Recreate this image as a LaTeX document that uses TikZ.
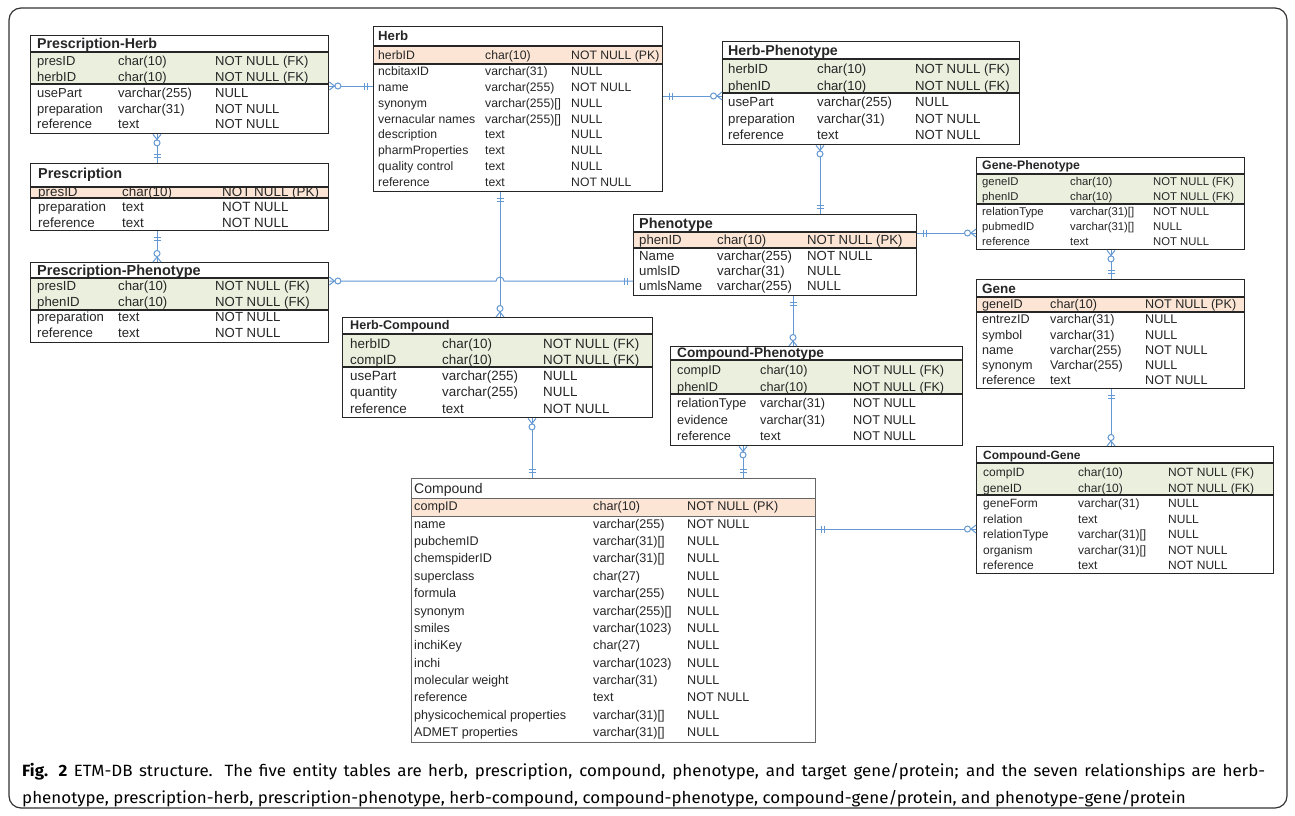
\documentclass[tikz,border=0pt]{standalone}
\usepackage{fontspec}
\setmainfont{Liberation Sans}
\newfontfamily\capfont{Fira Sans}[FakeStretch=1.04]
\definecolor{pkfill}{RGB}{252,229,213}
\definecolor{fkfill}{RGB}{235,240,222}
\definecolor{linkblue}{RGB}{100,152,210}
\begin{document}
\begin{tikzpicture}[x=1pt, y=-1pt,
    tbox/.style={draw=black!85, line width=1.4pt, anchor=north west, inner sep=0pt},
    rowline/.style={draw=black!85, line width=1.4pt},
    cell/.style={anchor=base west, inner sep=0pt, yshift={-0.3*#1pt}, font=\fontsize{#1}{#1}\selectfont, text=black!85},
    ttl/.style={cell=#1, font=\fontsize{#1}{#1}\selectfont\bfseries},
    link/.style={draw=linkblue, line width=1pt},
    manymark/.pic={\draw[link] (0,-4) -- (5,0) -- (0,4); \draw[link, fill=white] (8.5,0) circle (3);},
    onemark/.pic={\draw[link] (6,-3.5) -- (6,3.5) (9,-3.5) -- (9,3.5);}]
    \useasboundingbox (0,0) rectangle (1295,816);
    \fill[white] (0,0) rectangle (1295,816);
    % Rahmen
    \draw[line width=1.2pt, draw=black!80, rounded corners=12pt] (9,8) rectangle (1287,808);

    % Prescription-Herb
    \fill[fkfill] (30,52) rectangle (328,84);
    \node[tbox, minimum width=298pt, minimum height=98pt] (presherb) at (30,35) {};
    \draw[rowline] (30,52) -- (328,52) (30,84) -- (328,84);
    \node[ttl=14.2] (presherb-t) at (37,44) {Prescription-Herb};
    \foreach \n/\t/\c [count=\i from 0] in {presID/char(10)/NOT NULL (FK), herbID/char(10)/NOT NULL (FK),
        usePart/varchar(255)/NULL, preparation/varchar(31)/NOT NULL, reference/text/NOT NULL} {
        \node[cell=13] (presherb-a\i) at (37,62+15.75*\i) {\n};
        \node[cell=13] (presherb-b\i) at (118,62+15.75*\i) {\t};
        \node[cell=13] (presherb-c\i) at (215,62+15.75*\i) {\c};
    }

    % Prescription
    \fill[pkfill] (30,187) rectangle (328,198);
    \node[tbox, minimum width=298pt, minimum height=67pt] (pres) at (30,163) {};
    \draw[rowline] (30,187) -- (328,187) (30,198) -- (328,198);
    \node[ttl=14.4] (pres-t) at (38,174) {Prescription};
    \foreach \n/\t/\c [count=\i from 0] in {presID/char(10)/NOT NULL (PK),
        preparation/text/NOT NULL, reference/text/NOT NULL} {
        \node[cell=13.4] (pres-a\i) at (38,192+15.5*\i) {\n};
        \node[cell=13.4] (pres-b\i) at (122,192+15.5*\i) {\t};
        \node[cell=13.4] (pres-c\i) at (222,192+15.5*\i) {\c};
    }

    % Prescription-Phenotype
    \fill[fkfill] (30,278) rectangle (328,310);
    \node[tbox, minimum width=298pt, minimum height=80pt] (prespheno) at (30,262) {};
    \draw[rowline] (30,278) -- (328,278) (30,310) -- (328,310);
    \node[ttl=14.5] (prespheno-t) at (37,271) {Prescription-Phenotype};
    \foreach \n/\t/\c [count=\i from 0] in {presID/char(10)/NOT NULL (FK), phenID/char(10)/NOT NULL (FK),
        preparation/text/NOT NULL, reference/text/NOT NULL} {
        \node[cell=13.2] (prespheno-a\i) at (37,287+15.4*\i) {\n};
        \node[cell=13.2] (prespheno-b\i) at (118,287+15.4*\i) {\t};
        \node[cell=13.2] (prespheno-c\i) at (215,287+15.4*\i) {\c};
    }

    % Herb
    \fill[pkfill] (373,46) rectangle (662,64);
    \node[tbox, minimum width=289pt, minimum height=165pt] (herb) at (373,26) {};
    \draw[rowline] (373,46) -- (662,46) (373,64) -- (662,64);
    \node[ttl=13.2] (herb-t) at (378,37) {Herb};
    \foreach \n/\t/\c [count=\i from 0] in {herbID/char(10)/NOT NULL (PK), ncbitaxID/varchar(31)/NULL,
        name/varchar(255)/NOT NULL, synonym/varchar(255)[]/NULL, vernacular names/varchar(255)[]/NULL,
        description/text/NULL, pharmProperties/text/NULL, quality control/text/NULL, reference/text/NOT NULL} {
        \node[cell=12.2] (herb-a\i) at (378,56+15.85*\i) {\n};
        \node[cell=12.2] (herb-b\i) at (485,56+15.85*\i) {\t};
        \node[cell=12.2] (herb-c\i) at (571,56+15.85*\i) {\c};
    }

    % Herb-Phenotype
    \fill[fkfill] (722,59) rectangle (1019,93);
    \node[tbox, minimum width=297pt, minimum height=103pt] (herbpheno) at (722,41) {};
    \draw[rowline] (722,59) -- (1019,59) (722,93) -- (1019,93);
    \node[ttl=14.2] (herbpheno-t) at (728,51) {Herb-Phenotype};
    \foreach \n/\t/\c [count=\i from 0] in {herbID/char(10)/NOT NULL (FK), phenID/char(10)/NOT NULL (FK),
        usePart/varchar(255)/NULL, preparation/varchar(31)/NOT NULL, reference/text/NOT NULL} {
        \node[cell=13.2] (herbpheno-a\i) at (728,70+16.5*\i) {\n};
        \node[cell=13.2] (herbpheno-b\i) at (817,70+16.5*\i) {\t};
        \node[cell=13.2] (herbpheno-c\i) at (915,70+16.5*\i) {\c};
    }

    % Phenotype
    \fill[pkfill] (633,232) rectangle (916,248);
    \node[tbox, minimum width=283pt, minimum height=81pt] (pheno) at (633,214) {};
    \draw[rowline] (633,232) -- (916,232) (633,248) -- (916,248);
    \node[ttl=14.4] (pheno-t) at (639,224) {Phenotype};
    \foreach \n/\t/\c [count=\i from 0] in {phenID/char(10)/NOT NULL (PK), Name/varchar(255)/NOT NULL,
        umlsID/varchar(31)/NULL, umlsName/varchar(255)/NULL} {
        \node[cell=13.2] (pheno-a\i) at (639,241+15.3*\i) {\n};
        \node[cell=13.2] (pheno-b\i) at (717,241+15.3*\i) {\t};
        \node[cell=13.2] (pheno-c\i) at (807,241+15.3*\i) {\c};
    }

    % Gene-Phenotype
    \fill[fkfill] (976,174) rectangle (1244,204);
    \node[tbox, minimum width=268pt, minimum height=92pt] (genepheno) at (976,157) {};
    \draw[rowline] (976,174) -- (1244,174) (976,204) -- (1244,204);
    \node[ttl=12.3] (genepheno-t) at (982,166) {Gene-Phenotype};
    \foreach \n/\t/\c [count=\i from 0] in {geneID/char(10)/NOT NULL (FK), phenID/char(10)/NOT NULL (FK),
        relationType/varchar(31)[]/NOT NULL, pubmedID/varchar(31)[]/NULL, reference/text/NOT NULL} {
        \node[cell=11.3] (genepheno-a\i) at (982,182+15*\i) {\n};
        \node[cell=11.3] (genepheno-b\i) at (1070,182+15*\i) {\t};
        \node[cell=11.3] (genepheno-c\i) at (1153,182+15*\i) {\c};
    }

    % Gene
    \fill[pkfill] (976,297) rectangle (1244,312);
    \node[tbox, minimum width=268pt, minimum height=109pt] (gene) at (976,279) {};
    \draw[rowline] (976,297) -- (1244,297) (976,312) -- (1244,312);
    \node[ttl=13.5] (gene-t) at (982,289) {Gene};
    \foreach \n/\t/\c [count=\i from 0] in {geneID/char(10)/NOT NULL (PK), entrezID/varchar(31)/NULL,
        symbol/varchar(31)/NULL, name/varchar(255)/NOT NULL, synonym/Varchar(255)/NULL, reference/text/NOT NULL} {
        \node[cell=12.6] (gene-a\i) at (982,305+15.2*\i) {\n};
        \node[cell=12.6] (gene-b\i) at (1050,305+15.2*\i) {\t};
        \node[cell=12.6] (gene-c\i) at (1145,305+15.2*\i) {\c};
    }

    % Compound-Gene
    \fill[fkfill] (976,463) rectangle (1273,495);
    \node[tbox, minimum width=297pt, minimum height=127pt] (compgene) at (976,446) {};
    \draw[rowline] (976,463) -- (1273,463) (976,495) -- (1273,495);
    \node[ttl=12] (compgene-t) at (983,456) {Compound-Gene};
    \foreach \n/\t/\c [count=\i from 0] in {compID/char(10)/NOT NULL (FK), geneID/char(10)/NOT NULL (FK),
        geneForm/varchar(31)/NULL, relation/text/NULL, relationType/varchar(31)[]/NULL,
        organism/varchar(31)[]/NOT NULL, reference/text/NOT NULL} {
        \node[cell=12] (compgene-a\i) at (983,473+15.5*\i) {\n};
        \node[cell=12] (compgene-b\i) at (1078,473+15.5*\i) {\t};
        \node[cell=12] (compgene-c\i) at (1168,473+15.5*\i) {\c};
    }

    % Herb-Compound
    \fill[fkfill] (342,334) rectangle (652,367);
    \node[tbox, minimum width=310pt, minimum height=100pt] (herbcomp) at (342,317) {};
    \draw[rowline] (342,334) -- (652,334) (342,367) -- (652,367);
    \node[ttl=12.6] (herbcomp-t) at (350,326) {Herb-Compound};
    \foreach \n/\t/\c [count=\i from 0] in {herbID/char(10)/NOT NULL (FK), compID/char(10)/NOT NULL (FK),
        usePart/varchar(255)/NULL, quantity/varchar(255)/NULL, reference/text/NOT NULL} {
        \node[cell=13.4] (herbcomp-a\i) at (350,344+16.25*\i) {\n};
        \node[cell=13.4] (herbcomp-b\i) at (442,344+16.25*\i) {\t};
        \node[cell=13.4] (herbcomp-c\i) at (543,344+16.25*\i) {\c};
    }

    % Compound-Phenotype
    \fill[fkfill] (670,360) rectangle (962,394);
    \node[tbox, minimum width=292pt, minimum height=99pt] (comppheno) at (670,346) {};
    \draw[rowline] (670,360) -- (962,360) (670,394) -- (962,394);
    \node[ttl=13.7] (comppheno-t) at (677,353) {Compound-Phenotype};
    \foreach \n/\t/\c [count=\i from 0] in {compID/char(10)/NOT NULL (FK), phenID/char(10)/NOT NULL (FK),
        relationType/varchar(31)/NOT NULL, evidence/varchar(31)/NOT NULL, reference/text/NOT NULL} {
        \node[cell=12.7] (comppheno-a\i) at (677,371+16.5*\i) {\n};
        \node[cell=12.7] (comppheno-b\i) at (760,371+16.5*\i) {\t};
        \node[cell=12.7] (comppheno-c\i) at (853,371+16.5*\i) {\c};
    }

    % Compound
    \fill[pkfill] (411,498) rectangle (815,516);
    \node[tbox, draw=black!60, line width=0.9pt, minimum width=404pt, minimum height=264pt] (comp) at (411,478) {};
    \draw[draw=black!60, line width=0.9pt] (411,498) -- (815,498) (411,516) -- (815,516);
    \node[cell=14] (comp-t) at (414,489) {Compound};
    \foreach \n/\t/\c [count=\i from 0] in {compID/char(10)/NOT NULL (PK), name/varchar(255)/NOT NULL,
        pubchemID/varchar(31)[]/NULL, chemspiderID/varchar(31)[]/NULL, superclass/char(27)/NULL,
        formula/varchar(255)/NULL, synonym/varchar(255)[]/NULL, smiles/varchar(1023)/NULL,
        inchiKey/char(27)/NULL, inchi/varchar(1023)/NULL, molecular weight/varchar(31)/NULL,
        reference/text/NOT NULL, physicochemical properties/varchar(31)[]/NULL, ADMET properties/varchar(31)[]/NULL} {
        \node[cell=12.6] (comp-a\i) at (414,507+17.38*\i) {\n};
        \node[cell=12.6] (comp-b\i) at (593,507+17.38*\i) {\t};
        \node[cell=12.6] (comp-c\i) at (687,507+17.38*\i) {\c};
    }

    % Beziehungen
    \draw[link] (presherb.east |- 0,86) coordinate (l1a) -- (herb.west |- 0,86) coordinate (l1b);
    \pic[rotate=0] at (l1a) {manymark};
    \pic[rotate=180] at (l1b) {onemark};

    \draw[link] (herb.east |- 0,96) coordinate (l2a) -- (herbpheno.west |- 0,96) coordinate (l2b);
    \pic[rotate=0] at (l2a) {onemark};
    \pic[rotate=180] at (l2b) {manymark};

    \draw[link] (presherb.south -| 157,0) coordinate (l3a) -- (pres.north -| 157,0) coordinate (l3b);
    \pic[rotate=270] at (l3a) {manymark};
    \pic[rotate=90] at (l3b) {onemark};

    \draw[link] (pres.south -| 157,0) coordinate (l4a) -- (prespheno.north -| 157,0) coordinate (l4b);
    \pic[rotate=270] at (l4a) {onemark};
    \pic[rotate=90] at (l4b) {manymark};

    \draw[link] (herb.south -| 500,0) coordinate (l6a) -- (herbcomp.north -| 500,0) coordinate (l6b);
    \pic[rotate=270] at (l6a) {onemark};
    \pic[rotate=90] at (l6b) {manymark};

    % mit Bruecke ueber die Linie Herb -- Herb-Compound
    \draw[link] (prespheno.east |- 0,281) coordinate (l5a) -- (496,281) arc (180:360:4)
        -- (pheno.west |- 0,281) coordinate (l5b);
    \pic[rotate=0] at (l5a) {manymark};
    \pic[rotate=180] at (l5b) {onemark};

    \draw[link] (herbpheno.south -| 820,0) coordinate (l7a) -- (pheno.north -| 820,0) coordinate (l7b);
    \pic[rotate=270] at (l7a) {manymark};
    \pic[rotate=90] at (l7b) {onemark};

    \draw[link] (pheno.east |- 0,233) coordinate (l8a) -- (genepheno.west |- 0,233) coordinate (l8b);
    \pic[rotate=0] at (l8a) {onemark};
    \pic[rotate=180] at (l8b) {manymark};

    \draw[link] (genepheno.south -| 1111,0) coordinate (l9a) -- (gene.north -| 1111,0) coordinate (l9b);
    \pic[rotate=270] at (l9a) {manymark};
    \pic[rotate=90] at (l9b) {onemark};

    \draw[link] (gene.south -| 1111,0) coordinate (l10a) -- (compgene.north -| 1111,0) coordinate (l10b);
    \pic[rotate=270] at (l10a) {onemark};
    \pic[rotate=90] at (l10b) {manymark};

    \draw[link] (pheno.south -| 793,0) coordinate (l11a) -- (comppheno.north -| 793,0) coordinate (l11b);
    \pic[rotate=270] at (l11a) {onemark};
    \pic[rotate=90] at (l11b) {manymark};

    \draw[link] (herbcomp.south -| 532,0) coordinate (l12a) -- (comp.north -| 532,0) coordinate (l12b);
    \pic[rotate=270] at (l12a) {manymark};
    \pic[rotate=90] at (l12b) {onemark};

    \draw[link] (comppheno.south -| 743,0) coordinate (l13a) -- (comp.north -| 743,0) coordinate (l13b);
    \pic[rotate=270] at (l13a) {manymark};
    \pic[rotate=90] at (l13b) {onemark};

    \draw[link] (comp.east |- 0,529) coordinate (l14a) -- (compgene.west |- 0,529) coordinate (l14b);
    \pic[rotate=0] at (l14a) {onemark};
    \pic[rotate=180] at (l14b) {manymark};

    % Bildunterschrift (erste Zeile im Blocksatz)
    \node[anchor=base west, inner sep=0pt, font=\capfont\fontsize{16.3}{16.3}\selectfont] (cap1) at (22,776)
        {\makebox[1243pt][s]{\textbf{Fig. 2} ETM-DB structure. The five entity tables are herb, prescription, compound, phenotype, and target gene/protein; and the seven relationships are herb-}};
    \node[anchor=base west, inner sep=0pt, font=\capfont\fontsize{16.3}{16.3}\selectfont] (cap2) at (22,803)
        {phenotype, prescription-herb, prescription-phenotype, herb-compound, compound-phenotype, compound-gene/protein, and phenotype-gene/protein};
\end{tikzpicture}
\end{document}
